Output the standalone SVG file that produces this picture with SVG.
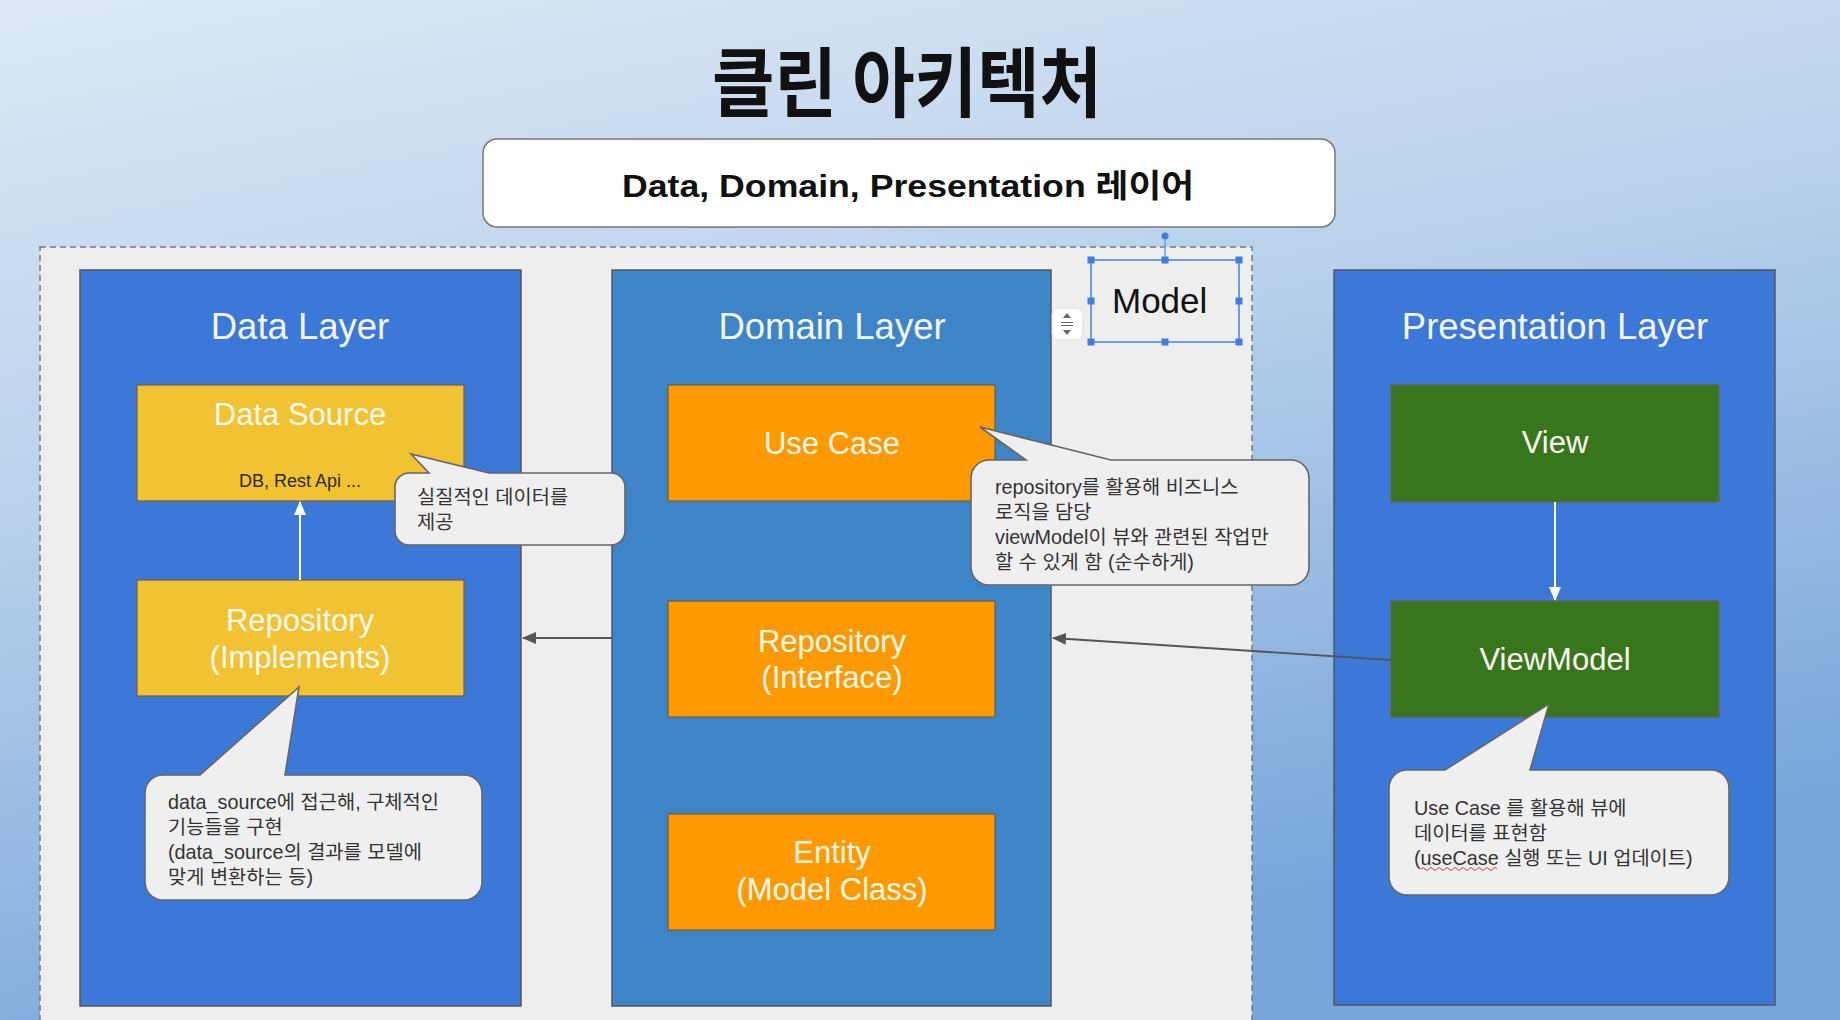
<svg xmlns="http://www.w3.org/2000/svg" width="1840" height="1020" viewBox="0 0 1840 1020">
  <defs>
    <linearGradient id="bg" x1="0" y1="0" x2="0.35" y2="1">
      <stop offset="0" stop-color="#dce8f4"/>
      <stop offset="0.45" stop-color="#b9d1ec"/>
      <stop offset="1" stop-color="#78a6da"/>
    </linearGradient>
    <marker id="arrWhite" viewBox="0 0 14 12" refX="13" refY="6" markerWidth="14" markerHeight="12" markerUnits="userSpaceOnUse" orient="auto">
      <path d="M0,0 L14,6 L0,12 z" fill="#ffffff"/>
    </marker>
    <marker id="arrDark" viewBox="0 0 14 12" refX="13" refY="6" markerWidth="14" markerHeight="12" markerUnits="userSpaceOnUse" orient="auto">
      <path d="M0,0 L14,6 L0,12 z" fill="#555555"/>
    </marker>
    <style>
      .title { font-family: "Noto Sans CJK KR", "Liberation Sans", sans-serif; font-weight: 700; font-size: 76px; fill: #111; }
      .hdr { font-family: "Liberation Sans", "Noto Sans CJK KR", sans-serif; font-weight: 700; font-size: 32px; fill: #111; }
      .layer { stroke: #555; stroke-width: 1.5; }
      .layerTitle { font-family: "Liberation Sans", Arial, sans-serif; font-size: 36.5px; fill: #f4f6fb; text-anchor: middle; }
      .lbl { font-family: "Liberation Sans", Arial, sans-serif; font-size: 31px; fill: #fbf8ef; text-anchor: middle; }
      .small { font-family: "Liberation Sans", Arial, sans-serif; font-size: 18px; fill: #2b2b2b; text-anchor: middle; }
      .box { stroke: #6b5f4a; stroke-width: 1.2; }
      .yellow { fill: #f1c232; }
      .orange { fill: #ff9900; }
      .green { fill: #38761d; }
      .callout { fill: #efefef; stroke: #666; stroke-width: 1.6; }
      .ctext { font-family: "Liberation Sans", "Noto Sans CJK KR", sans-serif; font-size: 19.8px; fill: #333; }
      .handle { fill: #3f7ee0; }
    </style>
  </defs>

  <rect x="0" y="0" width="1840" height="1020" fill="url(#bg)"/>

  <g id="title">
    <text class="title" x="712" y="111" textLength="390" lengthAdjust="spacingAndGlyphs">클린 아키텍처</text>
  </g>

  <g id="header">
    <rect x="483" y="139" width="852" height="88" rx="14" fill="#ffffff" stroke="#777" stroke-width="1.5"/>
    <text class="hdr" x="622" y="197" textLength="572" lengthAdjust="spacingAndGlyphs">Data, Domain, Presentation 레이어</text>
  </g>

  <g id="container">
    <rect x="40" y="247" width="1212" height="800" fill="#eeeeee" stroke="#7a7a7a" stroke-width="1.5" stroke-dasharray="6 4"/>
  </g>

  <g id="data-layer">
    <rect class="layer" x="80" y="270" width="441" height="736" fill="#3c78d8"/>
    <text class="layerTitle" x="300" y="339">Data Layer</text>
  </g>
  <g id="domain-layer">
    <rect class="layer" x="612" y="270" width="439" height="736" fill="#3d85c6"/>
    <text class="layerTitle" x="832" y="339">Domain Layer</text>
  </g>
  <g id="presentation-layer">
    <rect class="layer" x="1334" y="270" width="441" height="735" fill="#3c78d8"/>
    <text class="layerTitle" x="1555" y="339">Presentation Layer</text>
  </g>

  <g id="data-source">
    <rect class="box yellow" x="137" y="385" width="327" height="116"/>
    <text class="lbl" x="300" y="425">Data Source</text>
    <text class="small" x="300" y="487">DB, Rest Api ...</text>
  </g>
  <g id="repository-impl">
    <rect class="box yellow" x="137" y="580" width="327" height="116"/>
    <text class="lbl" x="300" y="631">Repository</text>
    <text class="lbl" x="300" y="668">(Implements)</text>
  </g>
  <g id="use-case">
    <rect class="box orange" x="668" y="385" width="327" height="116"/>
    <text class="lbl" x="832" y="454">Use Case</text>
  </g>
  <g id="repository-interface">
    <rect class="box orange" x="668" y="601" width="327" height="116"/>
    <text class="lbl" x="832" y="652">Repository</text>
    <text class="lbl" x="832" y="688">(Interface)</text>
  </g>
  <g id="entity">
    <rect class="box orange" x="668" y="814" width="327" height="116"/>
    <text class="lbl" x="832" y="863">Entity</text>
    <text class="lbl" x="832" y="900">(Model Class)</text>
  </g>
  <g id="view">
    <rect class="box green" x="1391" y="385" width="328" height="117"/>
    <text class="lbl" x="1555" y="453">View</text>
  </g>
  <g id="viewmodel">
    <rect class="box green" x="1391" y="601" width="328" height="116"/>
    <text class="lbl" x="1555" y="670">ViewModel</text>
  </g>

  <g id="connectors">
    <line x1="300" y1="580" x2="300" y2="502" stroke="#ffffff" stroke-width="2" marker-end="url(#arrWhite)"/>
    <line x1="1555" y1="502" x2="1555" y2="600" stroke="#ffffff" stroke-width="2" marker-end="url(#arrWhite)"/>
    <line x1="612" y1="638" x2="523" y2="638" stroke="#555555" stroke-width="1.8" marker-end="url(#arrDark)"/>
    <line x1="1391" y1="660" x2="1053" y2="638" stroke="#555555" stroke-width="1.8" marker-end="url(#arrDark)"/>
  </g>

  <g id="callout-data-source">
    <path class="callout" d="M409,473 L429,473 L411,454 L489,473 L611,473 A14,14 0 0 1 625,487 L625,531 A14,14 0 0 1 611,545 L409,545 A14,14 0 0 1 395,531 L395,487 A14,14 0 0 1 409,473 Z"/>
    <text class="ctext" x="417" y="504">실질적인 데이터를</text>
    <text class="ctext" x="417" y="529">제공</text>
  </g>

  <g id="callout-repository">
    <path class="callout" d="M163,775 L200,775 L299,687 L285,775 L464,775 A18,18 0 0 1 482,793 L482,882 A18,18 0 0 1 464,900 L163,900 A18,18 0 0 1 145,882 L145,793 A18,18 0 0 1 163,775 Z"/>
    <text class="ctext" x="168" y="809">data_source에 접근해, 구체적인</text>
    <text class="ctext" x="168" y="834">기능들을 구현</text>
    <text class="ctext" x="168" y="859">(data_source의 결과를 모델에</text>
    <text class="ctext" x="168" y="884">맞게 변환하는 등)</text>
  </g>

  <g id="callout-usecase">
    <path class="callout" d="M989,460 L1026,460 L980,427 L1111,460 L1291,460 A18,18 0 0 1 1309,478 L1309,567 A18,18 0 0 1 1291,585 L989,585 A18,18 0 0 1 971,567 L971,478 A18,18 0 0 1 989,460 Z"/>
    <text class="ctext" x="995" y="494">repository를 활용해 비즈니스</text>
    <text class="ctext" x="995" y="519">로직을 담당</text>
    <text class="ctext" x="995" y="544">viewModel이 뷰와 관련된 작업만</text>
    <text class="ctext" x="995" y="569">할 수 있게 함 (순수하게)</text>
  </g>

  <g id="callout-viewmodel">
    <path class="callout" d="M1407,770 L1445,770 L1549,704 L1530,770 L1711,770 A18,18 0 0 1 1729,788 L1729,877 A18,18 0 0 1 1711,895 L1407,895 A18,18 0 0 1 1389,877 L1389,788 A18,18 0 0 1 1407,770 Z"/>
    <text class="ctext" x="1414" y="815">Use Case 를 활용해 뷰에</text>
    <text class="ctext" x="1414" y="840">데이터를 표현함</text>
    <text class="ctext" x="1414" y="865">(useCase 실행 또는 UI 업데이트)</text>
    <path d="M1421,869 q2,-3 4,0 t4,0 t4,0 t4,0 t4,0 t4,0 t4,0 t4,0 t4,0 t4,0 t4,0 t4,0 t4,0 t4,0 t4,0 t4,0 t4,0 t4,0 t4,0" fill="none" stroke="#d43c3c" stroke-width="1"/>
  </g>

  <g id="model">
    <line x1="1165" y1="236" x2="1165" y2="260" stroke="#6d9eeb" stroke-width="1.5"/>
    <circle cx="1165" cy="236" r="3.5" class="handle"/>
    <rect x="1091" y="260" width="148" height="82" fill="none" stroke="#6d9eeb" stroke-width="2"/>
    <rect class="handle" x="1087.5" y="256.5" width="7" height="7"/>
    <rect class="handle" x="1161.5" y="256.5" width="7" height="7"/>
    <rect class="handle" x="1235.5" y="256.5" width="7" height="7"/>
    <rect class="handle" x="1087.5" y="297.5" width="7" height="7"/>
    <rect class="handle" x="1235.5" y="297.5" width="7" height="7"/>
    <rect class="handle" x="1087.5" y="338.5" width="7" height="7"/>
    <rect class="handle" x="1161.5" y="338.5" width="7" height="7"/>
    <rect class="handle" x="1235.5" y="338.5" width="7" height="7"/>
    <text x="1112" y="313" font-family="'Liberation Sans', Arial, sans-serif" font-size="35" fill="#111">Model</text>
  </g>

  <g id="resize-widget">
    <rect x="1052" y="308" width="31" height="32" rx="7" fill="#ffffff" stroke="#dddddd" stroke-width="1"/>
    <path d="M1063,318 L1067,313 L1071,318 Z M1063,330 L1067,335 L1071,330 Z" fill="#666"/>
    <path d="M1061,322.5 H1073 M1061,325.5 H1073" stroke="#666" stroke-width="1.2"/>
  </g>
</svg>
